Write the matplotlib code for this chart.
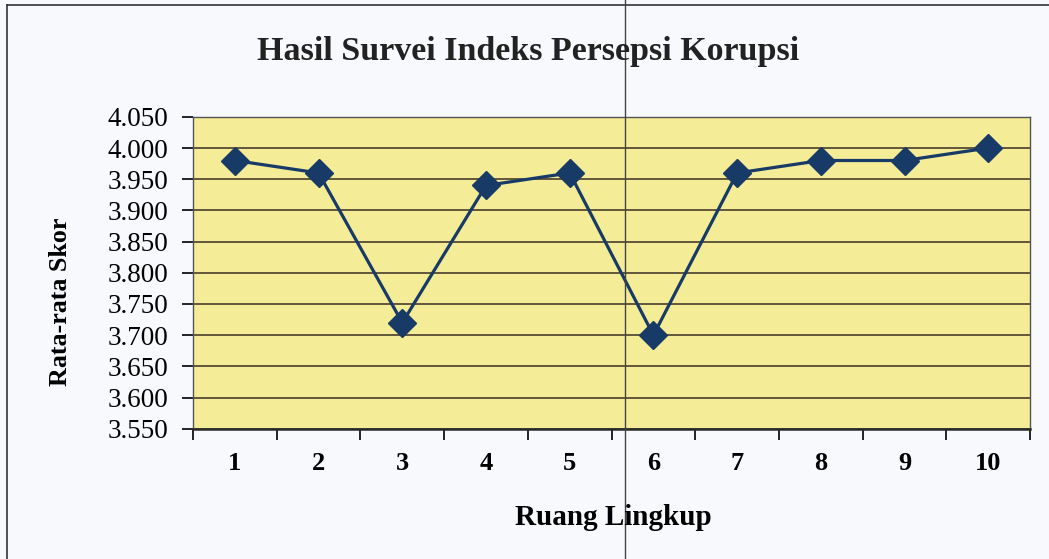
import numpy as np
import matplotlib.pyplot as plt
from matplotlib.lines import Line2D

# data
ruang = [1, 2, 3, 4, 5, 6, 7, 8, 9, 10]
skor = [3.98, 3.96, 3.72, 3.94, 3.96, 3.70, 3.96, 3.98, 3.98, 4.00]
yticks = [3.55, 3.60, 3.65, 3.70, 3.75, 3.80, 3.85, 3.90, 3.95, 4.00, 4.05]

serif = ['Liberation Serif', 'DejaVu Serif']
navy = '#173a66'

fig = plt.figure(figsize=(10.49, 5.59), dpi=100)
fig.patch.set_facecolor('#f7f9fc')
ax = fig.add_axes([0.184, 0.233, 0.798, 0.558])
ax.set_facecolor('#f5ec98')

ax.plot(ruang, skor, color=navy, lw=2.3, marker='D', ms=14, mfc=navy, mec=navy, zorder=3)

ax.set_xlim(0.5, 10.5)
ax.set_ylim(3.55, 4.05)
ax.set_yticks(yticks)
ax.set_yticklabels(['%.3f' % v for v in yticks], fontsize=19.5, family=serif)
ax.yaxis.grid(True, color='#3a3020', lw=1.1)
ax.set_axisbelow(True)

# category ticks between points, labels at the points
ax.set_xticks(np.arange(0.5, 11, 1))
ax.set_xticklabels([])
ax.set_xticks(ruang, minor=True)
ax.set_xticklabels([str(r) for r in ruang], minor=True, fontsize=19,
                   fontweight='bold', family=serif)
ax.tick_params(axis='x', which='minor', length=0, pad=17)
ax.tick_params(axis='x', which='major', length=8, width=1.2, direction='out')
ax.tick_params(axis='y', length=8, width=1.2, direction='out', pad=10)

for s in ax.spines.values():
    s.set_color('#555555')
    s.set_linewidth(1.0)
ax.spines['bottom'].set_color('#2a2a2a')
ax.spines['bottom'].set_linewidth(1.8)

fig.text(0.503, 0.907, 'Hasil Survei Indeks Persepsi Korupsi', ha='center', va='center',
         fontsize=24.5, fontweight='bold', family=serif, color='#222222')
fig.text(0.058, 0.46, 'Rata-rata Skor', ha='center', va='center', rotation=90,
         fontsize=18.7, fontweight='bold', family=serif)
fig.text(0.585, 0.075, 'Ruang Lingkup', ha='center', va='center',
         fontsize=21, fontweight='bold', family=serif)

# outer frame and the fold line of the scanned page
fig.add_artist(Line2D([0.007, 0.007], [0.0, 0.991], transform=fig.transFigure, color='#333333', lw=1.2))
fig.add_artist(Line2D([0.007, 1.0], [0.991, 0.991], transform=fig.transFigure, color='#333333', lw=1.2))
fig.add_artist(Line2D([0.596, 0.596], [0.0, 1.0], transform=fig.transFigure, color='#444444', lw=1.0))

fig.savefig('out.png', dpi=100, facecolor=fig.get_facecolor())
